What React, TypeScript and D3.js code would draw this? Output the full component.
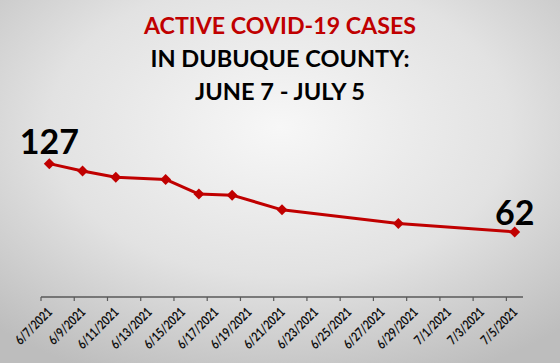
import React from "react";
import * as d3 from "d3";

const titleLines = ["ACTIVE COVID-19 CASES", "IN DUBUQUE COUNTY:", "JUNE 7 - JULY 5"];
const pointDates = ["2021-06-07", "2021-06-09", "2021-06-11", "2021-06-14", "2021-06-16", "2021-06-18", "2021-06-21", "2021-06-28", "2021-07-05"];
const activeCases = [127, 120, 114, 112, 98, 97, 83, 70, 62];
const tickDates = ["2021-06-07", "2021-06-09", "2021-06-11", "2021-06-13", "2021-06-15", "2021-06-17", "2021-06-19", "2021-06-21", "2021-06-23", "2021-06-25", "2021-06-27", "2021-06-29", "2021-07-01", "2021-07-03", "2021-07-05"];
const labeledIdx = [0, 8];

const W = 560, H = 363;
const parse = d3.timeParse("%Y-%m-%d");
const fmt = d3.timeFormat("%-m/%-d/%Y");

export default function App() {
  const start = parse(pointDates[0])!;
  const end = d3.timeDay.offset(parse(pointDates[pointDates.length - 1])!, 1);
  const x = d3.scaleTime().domain([start, end]).range([41, 523]);
  const y = d3.scaleLinear().domain([0, 140]).range([297, 150]);
  const mid = (s: string) => d3.timeHour.offset(parse(s)!, 12);
  const pts = pointDates.map((d, i) => [x(mid(d)), y(activeCases[i])] as [number, number]);
  const line = d3.line()(pts) || "";
  const diamond = d3.symbol().type(d3.symbolSquare).size(60)() || "";
  const red = "#C00000";
  const titleFont = "Lato, 'Open Sans', sans-serif";
  const titleLens = [272, 259, 170];
  const baselines = [34.3, 67.3, 100];
  const axisY = y(0);
  return (
    <svg width={W} height={H} style={{ position: "absolute", left: 0, top: 0 }} fontFamily={titleFont}>
      <defs>
        <radialGradient id="bg" cx="50%" cy="35%" r="75%">
          <stop offset="0%" stopColor="#f7f7f7" />
          <stop offset="55%" stopColor="#e2e2e2" />
          <stop offset="100%" stopColor="#bdbdbd" />
        </radialGradient>
      </defs>
      <rect x={0} y={0} width={W} height={H} fill="url(#bg)" />
      {titleLines.map((t, i) => (
        <text key={i} x={280} y={baselines[i]} textAnchor="middle" fontWeight={700} fontSize={22}
          fill={i === 0 ? red : "#000"} textLength={titleLens[i]} lengthAdjust="spacingAndGlyphs">{t}</text>
      ))}
      <line x1={x(start)} x2={x(end)} y1={axisY} y2={axisY} stroke="#595959" strokeWidth={1.5} />
      {tickDates.map((d) => {
        const tx = x(parse(d)!);
        return (
          <g key={d}>
            <line x1={tx} x2={tx} y1={axisY} y2={axisY + 4} stroke="#595959" strokeWidth={1.2} />
            <text transform={`translate(${tx + 12},${axisY + 16}) rotate(-45) scale(0.8,1)`} textAnchor="end"
              fontSize={13} fontWeight={700} fill="#111">{fmt(parse(d)!)}</text>
          </g>
        );
      })}
      <path d={line} fill="none" stroke={red} strokeWidth={3} strokeLinejoin="round" />
      {pts.map((p, i) => (
        <path key={i} d={diamond} transform={`translate(${p[0]},${p[1]}) rotate(45)`} fill={red} />
      ))}
      {labeledIdx.map((i) => (
        <text key={i} x={pts[i][0]} y={pts[i][1] - (i === 0 ? 10 : 7)} textAnchor="middle" fontSize={34}
          fontWeight={700} fill="#000">{activeCases[i]}</text>
      ))}
    </svg>
  );
}
